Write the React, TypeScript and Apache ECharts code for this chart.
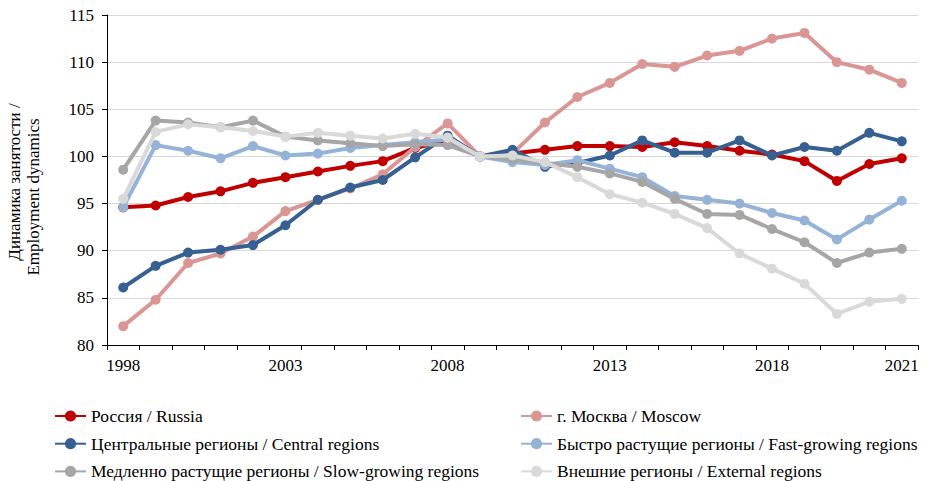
import React, { useEffect, useRef } from "react";
import * as echarts from "echarts";

// X-axis tick labels (25 points, labels shown as in the original)
const tickLabels = [
  "1998", "", "", "", "", "2003", "", "", "", "", "2008", "", "", "", "", "2013", "", "", "", "", "2018", "", "", "", "2021",
];

const russia = [94.6, 94.8, 95.7, 96.3, 97.2, 97.8, 98.4, 99.0, 99.5, 100.9, 101.7, 100.0, 100.3, 100.7, 101.1, 101.1, 101.0, 101.5, 101.1, 100.6, 100.2, 99.5, 97.4, 99.2, 99.8];
const moscow = [82.0, 84.8, 88.7, 89.7, 91.5, 94.2, 95.4, 96.6, 98.1, 101.0, 103.5, 100.0, 100.3, 103.6, 106.3, 107.8, 109.8, 109.5, 110.7, 111.2, 112.5, 113.1, 110.0, 109.2, 107.8];
const central = [86.1, 88.4, 89.8, 90.1, 90.6, 92.7, 95.4, 96.7, 97.5, 99.9, 102.2, 100.0, 100.7, 98.9, 99.3, 100.1, 101.7, 100.4, 100.4, 101.7, 100.1, 101.0, 100.6, 102.5, 101.6];
const fastGrowing = [94.6, 101.2, 100.6, 99.8, 101.1, 100.1, 100.3, 100.9, 101.2, 101.5, 101.8, 100.0, 99.4, 99.1, 99.6, 98.7, 97.8, 95.8, 95.4, 95.0, 94.0, 93.2, 91.2, 93.3, 95.3];
const slowGrowing = [98.6, 103.8, 103.6, 103.1, 103.8, 102.1, 101.7, 101.4, 101.1, 101.3, 101.2, 100.0, 99.7, 99.3, 98.9, 98.2, 97.3, 95.5, 93.9, 93.8, 92.3, 90.9, 88.7, 89.8, 90.2];
const external = [95.5, 102.6, 103.4, 103.1, 102.7, 102.1, 102.5, 102.2, 101.9, 102.4, 102.0, 100.0, 100.1, 99.4, 97.8, 96.0, 95.1, 93.9, 92.4, 89.7, 88.1, 86.5, 83.3, 84.6, 84.9];

const seriesNames = [
  "Россия / Russia",
  "г. Москва / Moscow",
  "Центральные регионы / Central regions",
  "Быстро растущие регионы / Fast-growing regions",
  "Медленно растущие регионы / Slow-growing regions",
  "Внешние регионы / External regions",
];
const seriesData = [russia, moscow, central, fastGrowing, slowGrowing, external];
const colors = ["#C00000", "#DA9694", "#366092", "#95B3D7", "#A6A6A6", "#D9D9D9"];

const yAxisTitle = ["Динамика занятости /", "Employment dynamics"];

const FONT = "Liberation Serif";

export default function App() {
  const ref = useRef<HTMLDivElement>(null);
  useEffect(() => {
    if (!ref.current) return;
    const chart = echarts.init(ref.current, undefined, { renderer: "svg" });
    const legendText = { fontFamily: FONT, fontSize: 17.5, color: "#000", lineHeight: 18 };
    const legendBase = {
      orient: "vertical",
      top: 407,
      height: 90,
      padding: 0,
      itemWidth: 31,
      itemHeight: 14,
      itemGap: 9.7,
      textStyle: legendText,
    };
    chart.setOption({
      animation: false,
      backgroundColor: "#fff",
      textStyle: { fontFamily: FONT },
      grid: { left: 107, right: 7, top: 15, bottom: 136, containLabel: false },
      legend: [
        { ...legendBase, left: 54, data: [seriesNames[0], seriesNames[2], seriesNames[4]] },
        { ...legendBase, left: 520, data: [seriesNames[1], seriesNames[3], seriesNames[5]] },
      ],
      graphic: [
        {
          type: "text",
          x: 14,
          y: 182,
          rotation: Math.PI / 2,
          style: {
            text: yAxisTitle[0],
            fontFamily: FONT,
            fontSize: 17,
            fill: "#000",
            align: "center",
            verticalAlign: "middle",
          },
        },
        {
          type: "text",
          x: 33,
          y: 197,
          rotation: Math.PI / 2,
          style: {
            text: yAxisTitle[1],
            fontFamily: FONT,
            fontSize: 17,
            fill: "#000",
            align: "center",
            verticalAlign: "middle",
          },
        },
      ],
      xAxis: {
        type: "category",
        data: tickLabels,
        boundaryGap: true,
        axisLine: { show: true, lineStyle: { color: "#000", width: 1 } },
        axisTick: { show: true, interval: 0, alignWithLabel: false, length: 5, lineStyle: { color: "#000" } },
        axisLabel: { interval: 0, fontFamily: FONT, fontSize: 17, color: "#000", margin: 12 },
        splitLine: { show: false },
      },
      yAxis: {
        type: "value",
        min: 80,
        max: 115,
        interval: 5,
        axisLine: { show: true, lineStyle: { color: "#000", width: 1 } },
        axisTick: { show: true, length: 5, lineStyle: { color: "#000" } },
        axisLabel: { fontFamily: FONT, fontSize: 17, color: "#000", margin: 13 },
        splitLine: { show: true, lineStyle: { color: "#D9D9D9", width: 1 } },
      },
      series: seriesData.map((d, i) => ({
        name: seriesNames[i],
        type: "line",
        data: d,
        color: colors[i],
        symbol: "circle",
        symbolSize: 10,
        lineStyle: { width: 4, color: colors[i] },
        itemStyle: { color: colors[i] },
        z: 2 + i,
      })),
    });
    return () => chart.dispose();
  }, []);
  return (
    <div
      ref={ref}
      style={{ position: "fixed", left: 0, top: 0, width: 925, height: 481 }}
    />
  );
}
